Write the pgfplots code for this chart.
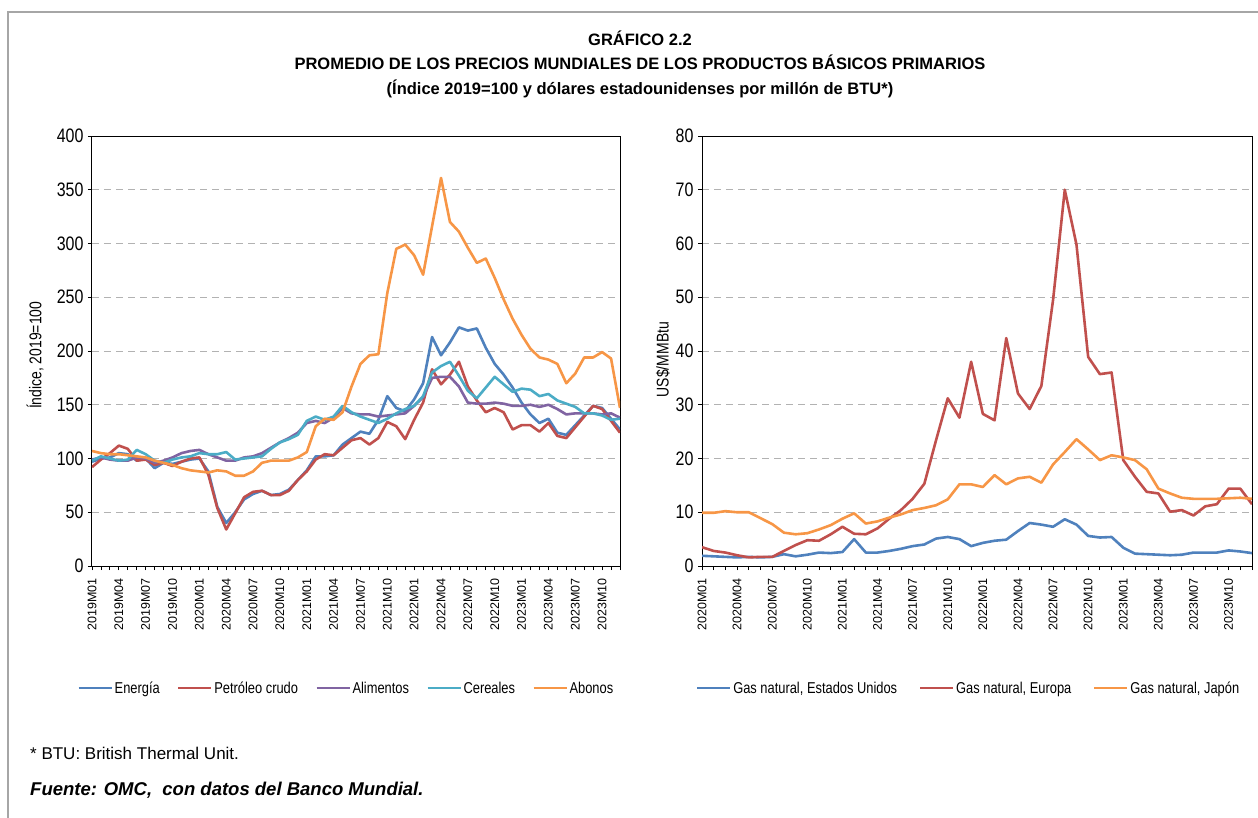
\documentclass[border=0pt]{standalone}
\usepackage{fontspec}
\setmainfont{Liberation Sans}
\newfontfamily\narrow{Liberation Sans}[FakeStretch=0.82]
\usepackage{pgfplots}
\usepackage{pgfplotstable}
\pgfplotsset{compat=1.18}
\definecolor{cBlue}{HTML}{4F81BD}
\definecolor{cRed}{HTML}{C0504D}
\definecolor{cPurple}{HTML}{8064A2}
\definecolor{cCyan}{HTML}{4BACC6}
\definecolor{cOrange}{HTML}{F79646}
\definecolor{cFrame}{HTML}{A6A6A6}

\pgfplotstableread{
i en pe al ce ab
0 97 92 99 98 107
1 100 99 101 102 105
2 101 105 99 100 104
3 105 112 98 98 104
4 104 109 98 99 103
5 98 98 101 108 102
6 100 99 100 104 101
7 91 94 96 98 98
8 96 96 98 96 96
9 95 93 101 99 94
10 97 97 105 101 91
11 99 100 107 102 89
12 100 101 108 105 88
13 88 85 104 104 87
14 55 54 101 104 89
15 40 34 98 106 88
16 50 49 98 99 84
17 62 64 101 100 84
18 67 69 102 101 88
19 70 70 105 102 96
20 66 66 110 109 98
21 67 66 115 115 98
22 71 70 119 118 98
23 80 80 124 122 101
24 89 88 133 135 106
25 102 99 135 139 130
26 102 104 133 136 137
27 103 103 138 139 136
28 113 110 147 149 143
29 119 117 142 143 167
30 125 119 141 139 188
31 123 113 141 136 196
32 136 119 139 133 197
33 158 134 140 137 254
34 147 130 141 142 295
35 144 118 142 146 299
36 155 136 149 149 289
37 170 152 157 158 271
38 213 183 175 180 316
39 196 169 176 186 361
40 208 178 176 190 320
41 222 190 167 177 311
42 219 167 152 163 296
43 221 154 151 156 282
44 203 143 151 166 286
45 188 147 152 176 268
46 178 143 151 169 248
47 166 127 149 162 230
48 152 131 149 165 215
49 141 131 150 164 202
50 133 125 148 158 194
51 137 133 150 160 192
52 124 121 146 154 188
53 122 119 141 151 170
54 131 129 142 148 179
55 140 139 142 142 194
56 149 149 142 142 194
57 147 146 141 140 199
58 137 135 142 136 193
59 127 124 138 137 147
}\leftdata

\pgfplotstableread{
i us eu jp
0 1.9 3.5 9.9
1 1.8 2.8 9.9
2 1.7 2.5 10.2
3 1.6 2.0 10.0
4 1.7 1.6 10.0
5 1.6 1.7 8.9
6 1.7 1.7 7.8
7 2.2 2.8 6.2
8 1.8 3.9 5.9
9 2.1 4.8 6.1
10 2.5 4.7 6.8
11 2.4 5.9 7.6
12 2.6 7.3 8.8
13 5.0 6.0 9.8
14 2.5 5.9 7.9
15 2.5 7.0 8.3
16 2.8 8.8 9.0
17 3.2 10.4 9.6
18 3.7 12.5 10.4
19 4.0 15.3 10.8
20 5.1 23.4 11.3
21 5.4 31.2 12.4
22 5.0 27.6 15.2
23 3.7 38.0 15.2
24 4.3 28.3 14.7
25 4.7 27.1 16.9
26 4.9 42.4 15.2
27 6.5 32.1 16.3
28 8.0 29.2 16.6
29 7.7 33.5 15.5
30 7.3 49.5 18.9
31 8.7 70.0 21.2
32 7.7 59.8 23.6
33 5.6 38.9 21.7
34 5.3 35.7 19.7
35 5.4 36.0 20.6
36 3.4 19.7 20.2
37 2.3 16.6 19.7
38 2.2 13.8 18.0
39 2.1 13.5 14.4
40 2.0 10.1 13.5
41 2.1 10.4 12.7
42 2.5 9.4 12.5
43 2.5 11.1 12.5
44 2.5 11.5 12.5
45 2.9 14.4 12.6
46 2.7 14.4 12.7
47 2.4 11.5 12.5
}\rightdata

\pgfplotsset{
  panel/.style={
    scale only axis,
    height=430pt,
    ymin=0,
    tick pos=left,
    tick align=outside,
    major tick length=4pt,
    minor tick length=4pt,
    every tick/.style={black, line width=0.8pt},
    axis line style={black, line width=1pt},
    ymajorgrids,
    grid style={dash pattern=on 7pt off 5pt, gray!60, line width=1pt},
    /pgf/number format/assume math mode=true,
    yticklabel style={font=\narrow\fontsize{19.5}{21}\selectfont, xshift=-1pt},
    xticklabel style={rotate=90, anchor=east, font=\fontsize{12.5}{14}\selectfont},
    xticklabel shift=5pt,
    ylabel style={font=\narrow\fontsize{17}{19}\selectfont},
    legend style={draw=none, fill=none, font=\narrow\fontsize{15.7}{18}\selectfont,
      legend columns=-1, anchor=center,
      /tikz/every even column/.append style={column sep=15.5pt},
      nodes={inner xsep=2pt, inner ysep=1pt}},
    legend image code/.code={\draw[#1, line width=2pt] (0pt,0pt) -- (33pt,0pt);},
    every axis plot/.append style={line width=2.6pt, line join=round, mark=none},
  }
}

\begin{document}
\begin{tikzpicture}
\path[use as bounding box] (0pt,0pt) rectangle (1258pt,-818pt);
\draw[cFrame, line width=1.5pt] (8pt,-818pt) -- (8pt,-12pt) -- (1258pt,-12pt);

\node[anchor=base, font=\bfseries\fontsize{16.5}{18}\selectfont] at (640pt,-46pt) {GRÁFICO 2.2};
\node[anchor=base, font=\bfseries\fontsize{16.5}{18}\selectfont] at (640pt,-70pt) {PROMEDIO DE LOS PRECIOS MUNDIALES DE LOS PRODUCTOS BÁSICOS PRIMARIOS};
\node[anchor=base, font=\bfseries\fontsize{16.5}{18}\selectfont] at (640pt,-95pt) {(Índice 2019=100 y dólares estadounidenses por millón de BTU*)};

\node[anchor=base west, font=\fontsize{17}{19}\selectfont, inner sep=0pt] at (30pt,-759pt) {* BTU: British Thermal Unit.};
\node[anchor=base west, font=\bfseries\itshape\fontsize{18.5}{20}\selectfont, inner sep=0pt] at (30pt,-795pt) {Fuente: OMC,\ \ con datos del Banco Mundial.};

\begin{axis}[panel,
  at={(92pt,-566pt)}, anchor=south west,
  width=528pt,
  xmin=0, xmax=59, ymax=400,
  ytick={0,50,...,400},
  xtick={0,3,...,57},
  minor xtick={0,1,...,59},
  xticklabels={2019M01,2019M04,2019M07,2019M10,2020M01,2020M04,2020M07,2020M10,2021M01,2021M04,2021M07,2021M10,2022M01,2022M04,2022M07,2022M10,2023M01,2023M04,2023M07,2023M10},
  ylabel={Índice, 2019=100},
  ylabel style={at={(axis description cs:-0.108,0.49)}, anchor=center},
  legend style={at={(axis description cs:0.482,-0.284)}},
]
\addplot[cBlue] table[x=i, y=en] {\leftdata};
\addlegendentry{Energía}
\addplot[cRed] table[x=i, y=pe] {\leftdata};
\addlegendentry{Petróleo crudo}
\addplot[cPurple] table[x=i, y=al] {\leftdata};
\addlegendentry{Alimentos}
\addplot[cCyan] table[x=i, y=ce] {\leftdata};
\addlegendentry{Cereales}
\addplot[cOrange] table[x=i, y=ab] {\leftdata};
\addlegendentry{Abonos}
\end{axis}

\begin{axis}[panel,
  at={(702pt,-566pt)}, anchor=south west,
  width=550pt,
  xmin=0, xmax=47, ymax=80,
  ytick={0,10,...,80},
  xtick={0,3,...,45},
  minor xtick={0,1,...,47},
  xticklabels={2020M01,2020M04,2020M07,2020M10,2021M01,2021M04,2021M07,2021M10,2022M01,2022M04,2022M07,2022M10,2023M01,2023M04,2023M07,2023M10},
  ylabel={US\$/MMBtu},
  ylabel style={at={(axis description cs:-0.071,0.48)}, anchor=center},
  legend style={at={(axis description cs:0.485,-0.284)}},
  legend style={/tikz/every even column/.append style={column sep=20pt}},
]
\addplot[cBlue] table[x=i, y=us] {\rightdata};
\addlegendentry{Gas natural, Estados Unidos}
\addplot[cRed] table[x=i, y=eu] {\rightdata};
\addlegendentry{Gas natural, Europa}
\addplot[cOrange] table[x=i, y=jp] {\rightdata};
\addlegendentry{Gas natural, Japón}
\end{axis}
\end{tikzpicture}
\end{document}
